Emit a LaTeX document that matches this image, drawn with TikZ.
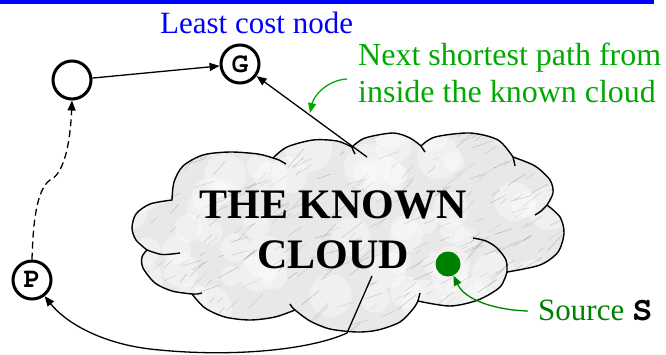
\documentclass[tikz,border=0pt]{standalone}
\usepackage[T1,TU]{fontenc}
\usepackage{fontspec}
\setmainfont{Liberation Serif}
\usetikzlibrary{arrows.meta}
\newcommand{\courb}{\fontencoding{T1}\fontfamily{pcr}\fontseries{b}\selectfont}
\definecolor{brightgreen}{RGB}{0,170,0}
\definecolor{srcgreen}{RGB}{0,128,0}
\definecolor{marble}{RGB}{232,232,232}
\begin{document}
\begin{tikzpicture}[x=1pt,y=-1pt,
  arr/.style={line width=1.3pt,-{Triangle[length=10pt,width=8pt]}},
  vertex/.style={circle,draw,line width=3pt,minimum size=38pt,inner sep=0pt,font=\fontsize{28}{28}\courb},
  outline/.style={line width=1.4pt},
  ]
\useasboundingbox (0,0) rectangle (666,354);
\fill[blue] (0,0) rectangle (654,4);

% cloud fill and texture
\begin{scope}
\clip plot[smooth] coordinates {(172,200) (174,182) (183,166) (203,155) (230,152) (258,154) (273,158)}
 -- plot[smooth] coordinates {(273,158) (287,147) (313,140) (337,141) (352,147)}
 -- plot[smooth] coordinates {(352,147) (365,138) (393,133) (410,138) (421,146)}
 -- plot[smooth] coordinates {(421,146) (435,137) (470,133) (498,140) (513,157)}
 -- plot[smooth] coordinates {(513,157) (535,166) (550,180) (553,193) (547,205)}
 -- plot[smooth] coordinates {(547,205) (560,217) (564,233) (558,252) (540,265) (507,272)}
 -- plot[smooth] coordinates {(507,272) (500,287) (478,300) (450,306) (418,301)}
 -- plot[smooth] coordinates {(418,301) (413,309) (400,322) (378,330) (357,332) (330,329) (310,321) (295,310)}
 -- plot[smooth] coordinates {(295,310) (275,317) (250,320) (225,317) (205,308) (192,294)}
 -- plot[smooth] coordinates {(192,294) (172,291) (155,283) (143,268) (142,257) (147,250)}
 -- plot[smooth] coordinates {(147,250) (136,240) (132,228) (136,214) (150,204) (172,200)}
 -- cycle;
\fill[marble] (120,120) rectangle (580,340);
\pgfmathsetseed{11}
\foreach \i in {1,...,70}{
  \pgfmathsetmacro\xa{120+450*rnd}
  \pgfmathsetmacro\ya{125+215*rnd}
  \pgfmathsetmacro\rr{10+14*rnd}
  \fill[white, opacity=0.35] (\xa,\ya) circle[radius=\rr];
}
\pgfmathsetseed{42}
\foreach \i in {1,...,320}{
  \pgfmathsetmacro\xa{120+450*rnd}
  \pgfmathsetmacro\ya{125+215*rnd}
  \pgfmathsetmacro\len{5+20*rnd}
  \pgfmathsetmacro\ang{-15-35*rnd}
  \pgfmathsetmacro\gr{30+35*rnd}
  \draw[black!\gr, line width=0.5pt, opacity=0.35, line cap=round] (\xa,\ya) -- ++(\ang:\len);
}
\end{scope}
\draw[outline] plot[smooth] coordinates {(172,200) (174,182) (183,166) (203,155) (230,152) (258,154) (273,158)}
 -- plot[smooth] coordinates {(273,158) (287,147) (313,140) (337,141) (352,147)}
 -- plot[smooth] coordinates {(352,147) (365,138) (393,133) (410,138) (421,146)}
 -- plot[smooth] coordinates {(421,146) (435,137) (470,133) (498,140) (513,157)}
 -- plot[smooth] coordinates {(513,157) (535,166) (550,180) (553,193) (547,205)}
 -- plot[smooth] coordinates {(547,205) (560,217) (564,233) (558,252) (540,265) (507,272)}
 -- plot[smooth] coordinates {(507,272) (500,287) (478,300) (450,306) (418,301)}
 -- plot[smooth] coordinates {(418,301) (413,309) (400,322) (378,330) (357,332) (330,329) (310,321) (295,310)}
 -- plot[smooth] coordinates {(295,310) (275,317) (250,320) (225,317) (205,308) (192,294)}
 -- plot[smooth] coordinates {(192,294) (172,291) (155,283) (143,268) (142,257) (147,250)}
 -- plot[smooth] coordinates {(147,250) (136,240) (132,228) (136,214) (150,204) (172,200)}
 -- cycle;
% inner ticks of the cloud
\draw[outline] plot[smooth] coordinates {(273,158) (279,160) (286,164)};
\draw[outline] plot[smooth] coordinates {(352,147) (353,150) (355,154)};
\draw[outline] plot[smooth] coordinates {(421,146) (423,149) (425,152)};
\draw[outline] plot[smooth] coordinates {(513,157) (514,161) (515,166)};
\draw[outline] plot[smooth] coordinates {(547,205) (541,211) (535,215)};
\draw[outline] plot[smooth] coordinates {(507,272) (506,260) (497,248) (486,241) (473,238)};
\draw[outline] plot[smooth] coordinates {(418,301) (419,297) (420,293)};
\draw[outline] plot[smooth] coordinates {(295,310) (292,307) (290,304)};
\draw[outline] plot[smooth] coordinates {(192,294) (197,294) (202,293)};
\draw[outline] plot[smooth] coordinates {(147,250) (162,254.5) (180,253)};

% texts
\node[blue, anchor=base west, inner sep=0pt, font=\fontsize{31}{37}\selectfont] (lcn) at (160,33) {Least cost node};
\node[brightgreen, anchor=base west, inner sep=0pt, align=left, font=\fontsize{32}{37}\selectfont] (nsp) at (358,102) {Next shortest path from\\inside the known cloud};
\node[anchor=base, inner sep=0pt, align=center, font=\fontsize{42}{50}\selectfont\bfseries] (kc) at (333,268) {THE KNOWN\\CLOUD};
\node[anchor=base west, inner sep=0pt, font=\fontsize{31}{37}\selectfont] (srct) at (538,320) {\textcolor{srcgreen}{Source} {\fontsize{34}{37}\courb S}};

% nodes
\node[vertex] (E) at (72,80) {};
\node[vertex] (G) at (240,64) {G};
\node[vertex] (P) at (32,280) {P};
\node[circle, fill=srcgreen, minimum size=25pt, inner sep=0pt] (S) at (448,264) {};

% connectors
\coordinate (c1) at (367,157);
\coordinate (c2) at (372,276);
\coordinate (g1) at (347,79);
\coordinate (g2) at (310,113);
\coordinate (s1) at (528,311);
\draw[arr] (E) -- (G);
\draw[arr] (c1) -- (G);
\draw[arr, dash pattern=on 7pt off 4pt] (P.north) .. controls (33,225) and (36,190) .. (50,180) .. controls (62,175) and (70,150) .. (E.south);
\draw[arr] (c2) -- (347,333) .. controls (310,350) and (230,358) .. (150,349) .. controls (100,343) and (65,322) .. (P);
\draw[arr, brightgreen] (g1) .. controls (328,80) and (314,95) .. (g2);
\draw[arr, srcgreen] (s1) .. controls (495,310) and (465,300) .. (S);
\end{tikzpicture}
\end{document}
